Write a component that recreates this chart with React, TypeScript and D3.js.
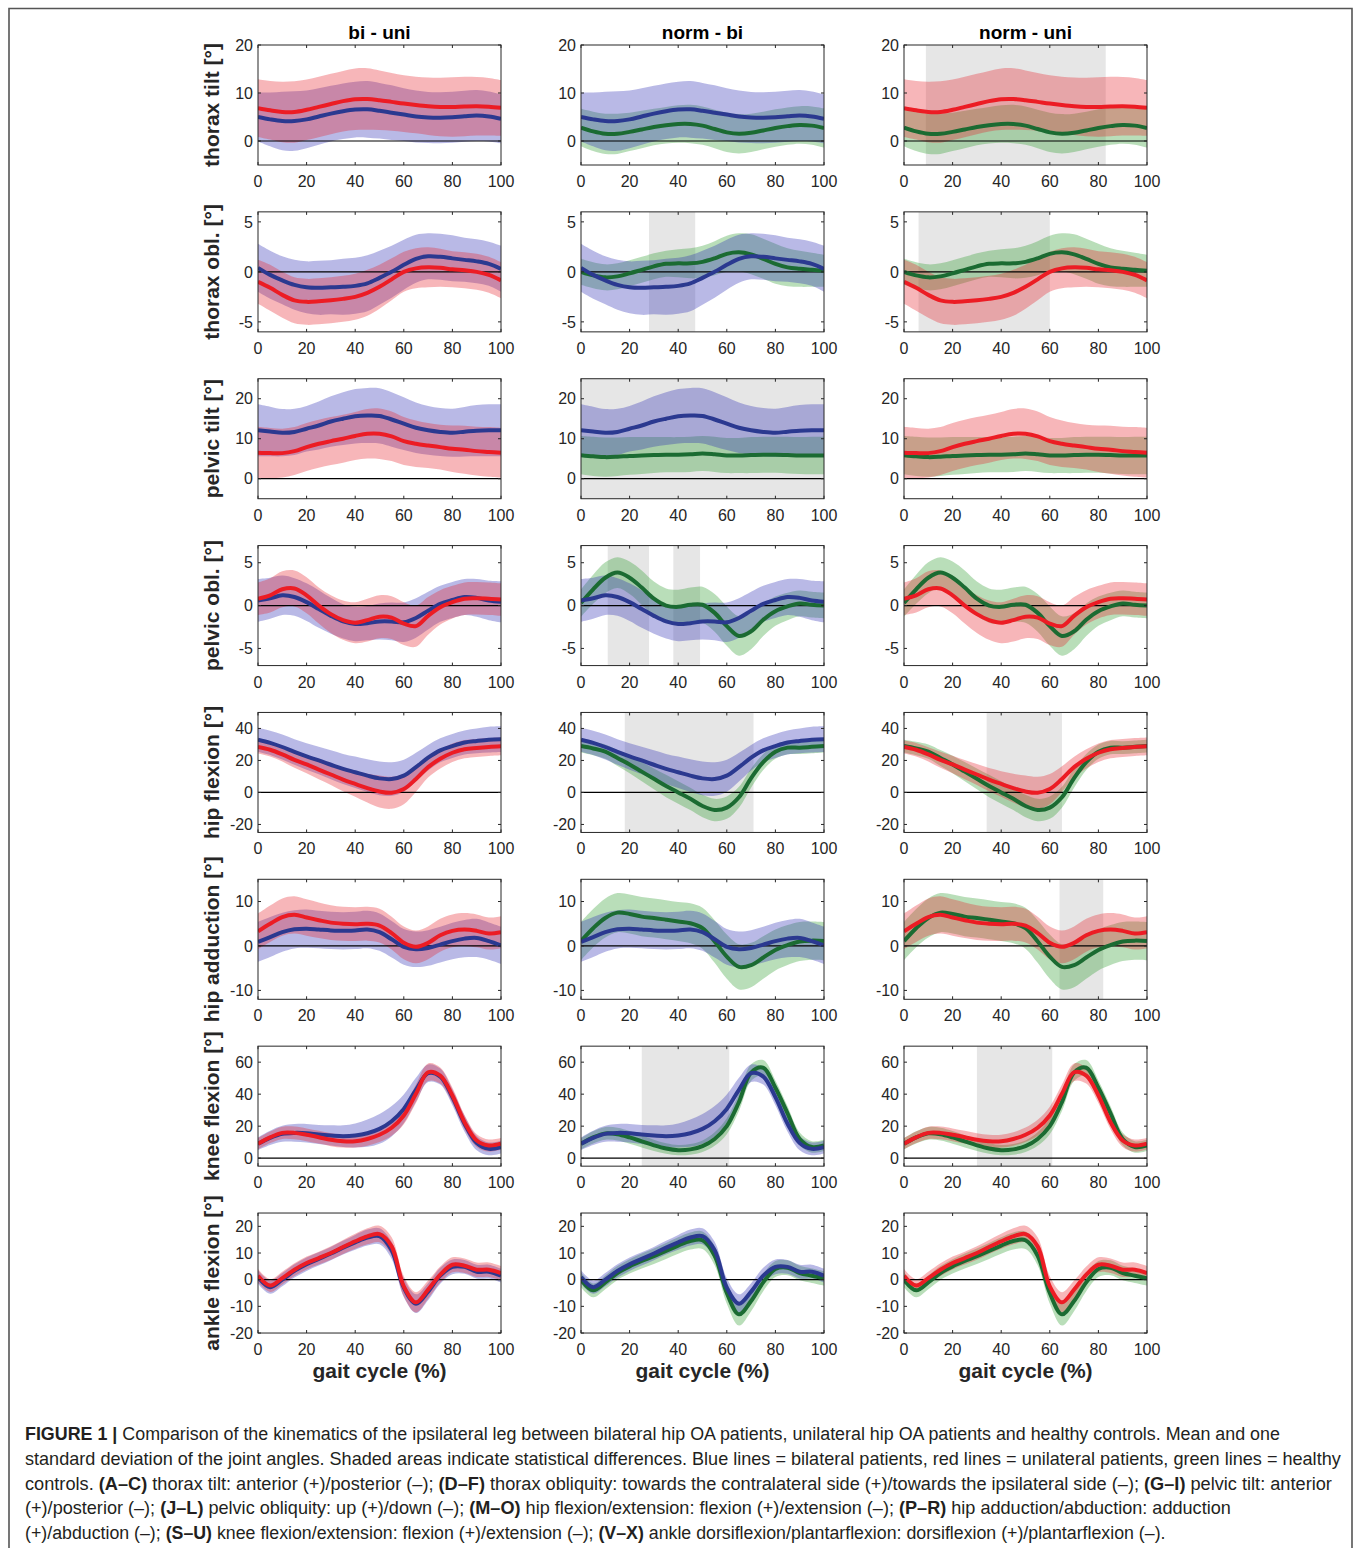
import React, { useLayoutEffect, useRef, useState } from "react";
import * as d3 from "d3";

// gait cycle samples (%)
const GAIT = [0, 5, 10, 15, 20, 25, 30, 35, 40, 45, 50, 55, 60, 65, 70, 75, 80, 85, 90, 95, 100];

// thorax tilt
const ttBi = [5.0, 4.5, 4.15, 4.15, 4.5, 5.1, 5.7, 6.2, 6.55, 6.6, 6.3, 5.9, 5.5, 5.1, 4.9, 4.85, 4.95, 5.15, 5.3, 5.1, 4.6];
const ttBiSd = [5.1, 5.6, 6.1, 6.2, 6.0, 5.9, 5.8, 5.8, 5.8, 5.9, 5.8, 5.7, 5.5, 5.4, 5.3, 5.3, 5.3, 5.3, 5.3, 5.2, 5.1];
const ttUni = [6.85, 6.4, 6.05, 6.05, 6.5, 7.1, 7.7, 8.3, 8.7, 8.75, 8.5, 8.15, 7.8, 7.5, 7.25, 7.1, 7.1, 7.2, 7.25, 7.15, 6.9];
const ttUniSd = [6.0, 6.1, 6.3, 6.4, 6.3, 6.3, 6.3, 6.3, 6.4, 6.4, 6.2, 6.0, 5.9, 5.9, 6.0, 6.1, 6.2, 6.2, 6.1, 6.0, 5.8];
const ttNorm = [2.8, 2.0, 1.5, 1.5, 1.9, 2.4, 2.9, 3.3, 3.55, 3.55, 3.2, 2.5, 1.8, 1.5, 1.7, 2.2, 2.7, 3.1, 3.35, 3.2, 2.7];
const ttNormSd = [3.9, 4.1, 4.2, 4.2, 4.0, 3.9, 3.8, 3.8, 3.9, 4.0, 4.0, 4.0, 4.1, 4.1, 4.0, 3.9, 3.9, 3.9, 3.9, 4.0, 4.1];

// thorax obliquity
const toBi = [0.4, -0.3, -0.85, -1.3, -1.55, -1.6, -1.55, -1.5, -1.4, -1.15, -0.6, 0, 0.7, 1.3, 1.55, 1.5, 1.35, 1.2, 1.05, 0.8, 0.3];
const toBiSd = [2.4, 2.4, 2.4, 2.5, 2.6, 2.7, 2.7, 2.8, 2.8, 2.8, 2.7, 2.6, 2.5, 2.4, 2.3, 2.3, 2.3, 2.2, 2.2, 2.2, 2.3];
const toUni = [-1.0, -1.6, -2.3, -2.85, -3.0, -2.95, -2.85, -2.7, -2.5, -2.1, -1.5, -0.75, 0, 0.35, 0.45, 0.4, 0.25, 0.15, 0, -0.3, -0.85];
const toUniSd = [2.2, 2.3, 2.3, 2.3, 2.3, 2.3, 2.3, 2.3, 2.3, 2.3, 2.2, 2.1, 2.0, 2.0, 2.0, 1.9, 1.8, 1.8, 1.8, 1.8, 1.8];
const toNorm = [0, -0.35, -0.55, -0.45, -0.15, 0.2, 0.55, 0.8, 0.85, 0.85, 1.0, 1.35, 1.8, 1.95, 1.75, 1.3, 0.8, 0.45, 0.3, 0.2, 0.1];
const toNormSd = [1.3, 1.3, 1.3, 1.3, 1.3, 1.3, 1.3, 1.3, 1.4, 1.5, 1.6, 1.7, 1.8, 1.9, 2.0, 2.0, 2.0, 1.9, 1.8, 1.7, 1.6];

// pelvic tilt
const ptBi = [12.1, 11.8, 11.5, 11.7, 12.5, 13.3, 14.3, 15.0, 15.6, 15.8, 15.7, 14.8, 13.75, 12.75, 12.1, 11.7, 11.5, 11.75, 12.0, 12.1, 12.1];
const ptBiSd = [6.5, 6.2, 5.9, 5.8, 5.7, 6.0, 6.3, 6.6, 6.8, 6.9, 6.9, 6.8, 6.6, 6.3, 6.1, 6.0, 6.0, 6.2, 6.4, 6.5, 6.5];
const ptUni = [6.5, 6.4, 6.4, 6.9, 7.9, 8.75, 9.4, 10.0, 10.7, 11.25, 11.25, 10.6, 9.4, 8.75, 8.3, 7.9, 7.5, 7.25, 6.9, 6.7, 6.5];
const ptUniSd = [6.5, 6.3, 6.1, 6.0, 6.0, 6.0, 6.0, 6.0, 6.0, 6.2, 6.3, 6.2, 6.0, 5.8, 5.6, 5.6, 5.8, 6.0, 6.1, 6.2, 6.2];
const ptNorm = [5.9, 5.6, 5.4, 5.5, 5.7, 5.8, 5.9, 6.0, 6.0, 6.1, 6.3, 6.1, 5.8, 5.8, 5.9, 6.0, 6.0, 5.9, 5.8, 5.8, 5.8];
const ptNormSd = [4.8, 4.9, 4.9, 4.8, 4.7, 4.6, 4.5, 4.4, 4.4, 4.4, 4.4, 4.4, 4.4, 4.4, 4.5, 4.5, 4.5, 4.6, 4.6, 4.7, 4.7];

// pelvic obliquity
const poBi = [0.6, 0.85, 1.2, 1.0, 0.4, -0.4, -1.2, -1.85, -2.15, -2.05, -1.85, -1.85, -1.95, -1.45, -0.6, 0.2, 0.65, 1.0, 0.9, 0.6, 0.45];
const poBiSd = [2.5, 2.4, 2.3, 2.2, 2.2, 2.2, 2.1, 2.0, 2.0, 2.0, 2.1, 2.2, 2.3, 2.3, 2.2, 2.1, 2.1, 2.1, 2.2, 2.3, 2.4];
const poUni = [0.8, 1.2, 1.9, 2.0, 1.2, 0, -1.0, -1.7, -2.0, -1.7, -1.3, -1.4, -2.1, -2.4, -1.2, -0.2, 0.4, 0.8, 0.85, 0.8, 0.7];
const poUniSd = [1.9, 2.0, 2.1, 2.1, 2.1, 2.1, 2.2, 2.3, 2.4, 2.5, 2.5, 2.5, 2.5, 2.4, 2.2, 2.0, 1.9, 1.9, 1.9, 1.9, 1.9];
const poNorm = [0.3, 1.9, 3.25, 3.85, 3.25, 2.1, 0.8, 0, -0.15, 0.1, 0.1, -0.85, -2.4, -3.55, -3.0, -1.65, -0.65, -0.1, 0.25, 0.1, 0];
const poNormSd = [1.6, 1.7, 1.8, 1.8, 1.9, 2.0, 2.0, 2.0, 2.0, 2.0, 2.1, 2.2, 2.3, 2.3, 2.1, 1.9, 1.7, 1.6, 1.5, 1.5, 1.5];

// hip flexion
const hfBi = [33, 31, 28.4, 25.3, 22.5, 20, 17.3, 14.7, 12.6, 10.5, 8.8, 8.4, 10.5, 15.8, 21.7, 26.3, 29, 31.2, 32.2, 33, 33.3];
const hfBiSd = [7.5, 7.6, 7.8, 8, 8.3, 8.6, 9, 9.4, 9.8, 10.2, 10.5, 10.5, 10, 9, 8, 7.5, 7.5, 7.5, 7.7, 8, 8];
const hfUni = [28.4, 26.7, 23.8, 20.4, 17.5, 14.3, 11.2, 8, 5.3, 2.7, 0.6, -0.2, 2.1, 8.4, 15.8, 21, 24.8, 27, 27.8, 28.4, 28.8];
const hfUniSd = [4, 4.2, 4.5, 5, 5.5, 6, 6.5, 7.2, 8, 9, 10, 10, 9.5, 8, 6.5, 6, 5.8, 5.7, 5.6, 5.6, 5.6];
const hfNorm = [29, 27.5, 25.5, 21.5, 17.5, 13, 8.5, 4, 0, -4, -8.5, -11, -9.5, -3, 9, 19, 25.5, 28, 28, 28.5, 29];
const hfNormSd = [4, 4.2, 4.5, 5, 5.5, 6, 6.5, 7, 7, 7, 7, 7, 7, 6.5, 6, 5, 4.5, 4.2, 4, 4, 4];

// hip adduction
const haBi = [0.9, 2, 3.1, 3.75, 3.9, 3.7, 3.5, 3.4, 3.5, 3.7, 3.1, 1.5, -0.2, -0.75, -0.45, 0.3, 1.1, 1.65, 1.8, 1.1, 0.15];
const haBiSd = [4.5, 4.5, 4.4, 4.3, 4.3, 4.2, 4.2, 4.2, 4.2, 4.2, 4.2, 4.1, 4.0, 4.0, 4.0, 4.0, 4.1, 4.2, 4.3, 4.2, 4.2];
const haUni = [3.3, 5, 6.5, 7, 6.4, 5.8, 5.25, 5, 4.9, 5, 4.6, 2.9, 0.7, -0.2, 0.7, 2.4, 3.4, 3.7, 3.4, 2.8, 3.1];
const haUniSd = [4.0, 4.1, 4.2, 4.2, 4.1, 4.0, 3.9, 3.8, 3.8, 3.8, 3.8, 3.7, 3.7, 3.7, 3.7, 3.7, 3.7, 3.7, 3.7, 3.6, 3.6];
const haNorm = [1.1, 4, 6.3, 7.5, 7.2, 6.6, 6.3, 5.9, 5.5, 5.1, 4, 1, -2.4, -4.7, -4.3, -2.6, -0.9, 0.2, 1, 1.2, 1.1];
const haNormSd = [4.3, 4.3, 4.4, 4.4, 4.4, 4.4, 4.4, 4.4, 4.4, 4.5, 4.6, 4.8, 5.0, 5.1, 5.0, 4.8, 4.6, 4.5, 4.4, 4.3, 4.3];

// knee flexion
const kfBi = [9, 12.7, 15.2, 15.8, 15.6, 14.8, 14.2, 13.75, 14.2, 15.6, 18.3, 23.1, 30.8, 42.7, 53.1, 51, 38.1, 21.5, 9.4, 5.8, 6.9];
const kfBiSd = [4, 4.5, 5, 5.5, 5.8, 6, 6.3, 6.8, 7.5, 8.5, 9.3, 9.5, 9, 7.5, 5.5, 5, 5, 5, 4.5, 4, 4];
const kfUni = [9, 13, 15.8, 15.8, 14.6, 13.1, 11.5, 10.6, 10.6, 12, 14.6, 19, 26.7, 40.2, 53.7, 51.6, 39.2, 22.5, 11, 7.9, 9];
const kfUniSd = [3.5, 3.6, 3.8, 4, 4, 4, 4, 4, 4, 4.2, 4.5, 5, 5.5, 5.8, 5.5, 5, 4.8, 4.5, 4, 3.8, 3.6];
const kfNorm = [9, 13, 15.5, 15, 13, 10.5, 8, 6, 5, 5.5, 7.5, 12, 20, 35, 53.5, 56.5, 44, 28, 12, 7, 8];
const kfNormSd = [3.5, 3.8, 4, 4, 4, 3.8, 3.5, 3.3, 3.2, 3.3, 3.6, 4.2, 5, 5.5, 5.2, 4.8, 4.6, 4.4, 4, 3.6, 3.5];

// ankle flexion
const afBi = [1, -2.8, 0, 3.3, 5.8, 7.8, 9.8, 12, 14, 15.8, 16.3, 11, -3, -9, -4.5, 1.5, 4.8, 4.8, 3, 3, 1.5];
const afBiSd = [2.5, 2.5, 2.5, 2.5, 2.5, 2.5, 2.5, 2.6, 2.8, 3, 3, 3.2, 3.5, 3.5, 3.2, 3, 2.8, 2.6, 2.6, 2.6, 2.6];
const afUni = [1.5, -2.2, 0.6, 3.75, 6.25, 8.1, 10, 12.25, 14.4, 16.25, 17.1, 12.5, -2.5, -8.5, -3.75, 1.9, 5.6, 5.25, 3.75, 3.75, 2.5];
const afUniSd = [2.5, 2.4, 2.4, 2.4, 2.4, 2.4, 2.5, 2.6, 2.8, 3, 3.1, 3.4, 3.8, 3.8, 3.4, 3, 2.8, 2.7, 2.7, 2.7, 2.6];
const afNorm = [0, -4, -1, 2.5, 5, 7, 8.8, 10.8, 12.8, 14.5, 14.8, 9, -5, -13, -8, -1, 4, 4.5, 2.5, 1.5, 0.5];
const afNormSd = [2.8, 2.6, 2.6, 2.6, 2.7, 2.8, 2.9, 3, 3.1, 3.2, 3.3, 3.6, 4, 4.2, 3.8, 3.3, 3, 2.8, 2.7, 2.7, 2.7];

const X_TICKS = [0, 20, 40, 60, 80, 100];
const COL_TITLES = ["bi - uni", "norm - bi", "norm - uni"];

type Group = "bi" | "uni" | "norm";
const COL_GROUPS: Group[][] = [["bi", "uni"], ["norm", "bi"], ["norm", "uni"]];

const LINE_COLOR: Record<Group, string> = { bi: "#2b3990", uni: "#ec1c24", norm: "#1b6b32" };
const BAND_COLOR: Record<Group, string> = { bi: "#2a2ab4", uni: "#e8202a", norm: "#2a9a2a" };

type Row = {
  label: string;
  domain: [number, number];
  ticks: number[];
  data: Record<Group, [number[], number[]]>;
  sig: [number, number][][];
};

const ROWS: Row[] = [
  {
    label: "thorax tilt [°]", domain: [-5, 20], ticks: [0, 10, 20],
    data: { bi: [ttBi, ttBiSd], uni: [ttUni, ttUniSd], norm: [ttNorm, ttNormSd] },
    sig: [[], [], [[9, 83]]],
  },
  {
    label: "thorax obl. [°]", domain: [-6, 6], ticks: [-5, 0, 5],
    data: { bi: [toBi, toBiSd], uni: [toUni, toUniSd], norm: [toNorm, toNormSd] },
    sig: [[], [[28, 47]], [[6, 60]]],
  },
  {
    label: "pelvic tilt [°]", domain: [-5, 25], ticks: [0, 10, 20],
    data: { bi: [ptBi, ptBiSd], uni: [ptUni, ptUniSd], norm: [ptNorm, ptNormSd] },
    sig: [[], [[0, 100]], []],
  },
  {
    label: "pelvic obl. [°]", domain: [-7, 7], ticks: [-5, 0, 5],
    data: { bi: [poBi, poBiSd], uni: [poUni, poUniSd], norm: [poNorm, poNormSd] },
    sig: [[], [[11, 28], [38, 49]], []],
  },
  {
    label: "hip flexion [°]", domain: [-25, 50], ticks: [-20, 0, 20, 40],
    data: { bi: [hfBi, hfBiSd], uni: [hfUni, hfUniSd], norm: [hfNorm, hfNormSd] },
    sig: [[], [[18, 71]], [[34, 65]]],
  },
  {
    label: "hip adduction [°]", domain: [-12, 15], ticks: [-10, 0, 10],
    data: { bi: [haBi, haBiSd], uni: [haUni, haUniSd], norm: [haNorm, haNormSd] },
    sig: [[], [], [[64, 82]]],
  },
  {
    label: "knee flexion [°]", domain: [-5, 70], ticks: [0, 20, 40, 60],
    data: { bi: [kfBi, kfBiSd], uni: [kfUni, kfUniSd], norm: [kfNorm, kfNormSd] },
    sig: [[], [[25, 61]], [[30, 61]]],
  },
  {
    label: "ankle flexion [°]", domain: [-20, 25], ticks: [-20, -10, 0, 10, 20],
    data: { bi: [afBi, afBiSd], uni: [afUni, afUniSd], norm: [afNorm, afNormSd] },
    sig: [[], [], []],
  },
];

// caption lines: [text, bold] segments
const CAPTION: [string, boolean][][] = [
  [["FIGURE 1 | ", true], ["Comparison of the kinematics of the ipsilateral leg between bilateral hip OA patients, unilateral hip OA patients and healthy controls. Mean and one", false]],
  [["standard deviation of the joint angles. Shaded areas indicate statistical differences. Blue lines = bilateral patients, red lines = unilateral patients, green lines = healthy", false]],
  [["controls. ", false], ["(A–C)", true], [" thorax tilt: anterior (+)/posterior (–); ", false], ["(D–F)", true], [" thorax obliquity: towards the contralateral side (+)/towards the ipsilateral side (–); ", false], ["(G–I)", true], [" pelvic tilt: anterior", false]],
  [["(+)/posterior (–); ", false], ["(J–L)", true], [" pelvic obliquity: up (+)/down (–); ", false], ["(M–O)", true], [" hip flexion/extension: flexion (+)/extension (–); ", false], ["(P–R)", true], [" hip adduction/abduction: adduction", false]],
  [["(+)/abduction (–); ", false], ["(S–U)", true], [" knee flexion/extension: flexion (+)/extension (–); ", false], ["(V–X)", true], [" ankle dorsiflexion/plantarflexion: dorsiflexion (+)/plantarflexion (–).", false]],
];
const CAPTION_WIDTHS = [1256, 1317, 1308, 1207, 1141];

const FONT = "'Liberation Sans', Arial, Helvetica, sans-serif";
const INK = "#262626";
const PW = 243;
const PH = 120;
const COL_X = [258, 581, 904];
const ROW_Y0 = 45;
const ROW_STEP = 166.86;

const Panel: React.FC<{ row: Row; rowIdx: number; col: number }> = ({ row, rowIdx, col }) => {
  const x = d3.scaleLinear().domain([0, 100]).range([0, PW]);
  const y = d3.scaleLinear().domain(row.domain).range([PH, 0]);
  const idx = GAIT.map((_, i) => i);
  const groups = COL_GROUPS[col];
  const clipId = `clip-${rowIdx}-${col}`;
  const tx = COL_X[col];
  const ty = ROW_Y0 + rowIdx * ROW_STEP;

  const band = (g: Group) => {
    const [m, s] = row.data[g];
    return d3
      .area<number>()
      .x((i) => x(GAIT[i]))
      .y0((i) => y(m[i] - s[i]))
      .y1((i) => y(m[i] + s[i]))
      .curve(d3.curveCatmullRom)(idx) || "";
  };
  const line = (g: Group) => {
    const [m] = row.data[g];
    return d3
      .line<number>()
      .x((i) => x(GAIT[i]))
      .y((i) => y(m[i]))
      .curve(d3.curveCatmullRom)(idx) || "";
  };

  return (
    <g transform={`translate(${tx},${ty})`}>
      <defs>
        <clipPath id={clipId}>
          <rect x={0} y={0} width={PW} height={PH} />
        </clipPath>
      </defs>
      <g clipPath={`url(#${clipId})`}>
        {row.sig[col].map(([a, b], k) => (
          <rect key={k} x={x(a)} y={0} width={x(b) - x(a)} height={PH} fill="#e6e6e6" />
        ))}
        {groups.map((g) => (
          <path key={`b${g}`} d={band(g)} fill={BAND_COLOR[g]} fillOpacity={0.33} stroke="none" />
        ))}
        <line x1={0} x2={PW} y1={y(0)} y2={y(0)} stroke="#000" strokeWidth={1.2} />
        {groups.map((g) => (
          <path key={`l${g}`} d={line(g)} fill="none" stroke={LINE_COLOR[g]} strokeWidth={4} strokeLinejoin="round" />
        ))}
      </g>
      <rect x={0} y={0} width={PW} height={PH} fill="none" stroke={INK} strokeWidth={1} />
      {X_TICKS.map((t) => (
        <g key={`x${t}`}>
          <line x1={x(t)} x2={x(t)} y1={PH} y2={PH - 3} stroke={INK} />
          <line x1={x(t)} x2={x(t)} y1={0} y2={3} stroke={INK} />
          <text x={x(t)} y={PH + 22} textAnchor="middle" fontSize={16} fontFamily={FONT} fill={INK}>
            {t}
          </text>
        </g>
      ))}
      {row.ticks.map((t) => (
        <g key={`y${t}`}>
          <line x1={0} x2={3} y1={y(t)} y2={y(t)} stroke={INK} />
          <line x1={PW} x2={PW - 3} y1={y(t)} y2={y(t)} stroke={INK} />
          <text x={-5} y={y(t)} dy="0.36em" textAnchor="end" fontSize={16} fontFamily={FONT} fill={INK}>
            {t}
          </text>
        </g>
      ))}
      {col === 0 && (
        <text
          transform={`translate(-46,${PH / 2}) rotate(-90)`}
          dy="0.35em"
          textAnchor="middle"
          fontSize={21}
          fontWeight="bold"
          fontFamily={FONT}
          fill={INK}
        >
          {row.label}
        </text>
      )}
      {rowIdx === 0 && (
        <text x={PW / 2} y={-6} textAnchor="middle" fontSize={19} fontWeight="bold" fontFamily={FONT} fill="#000">
          {COL_TITLES[col]}
        </text>
      )}
      {rowIdx === ROWS.length - 1 && (
        <text x={PW / 2} y={PH + 45} textAnchor="middle" fontSize={21} fontWeight="bold" fontFamily={FONT} fill={INK}>
          gait cycle (%)
        </text>
      )}
    </g>
  );
};

// one caption line, squeezed horizontally to the width it has in the figure
const CaptionLine: React.FC<{ segs: [string, boolean][]; y: number; width: number }> = ({ segs, y, width }) => {
  const ref = useRef<SVGTextElement>(null);
  const [sx, setSx] = useState(1);
  useLayoutEffect(() => {
    if (!ref.current) return;
    const w = ref.current.getBBox().width;
    if (w > 0) setSx(width / w);
  }, [width]);
  return (
    <text
      ref={ref}
      transform={`translate(25,${y}) scale(${sx},1)`}
      fontSize={18}
      fontFamily={FONT}
      fill="#231f20"
    >
      {segs.map(([t, b], k) => (
        <tspan key={k} fontWeight={b ? "bold" : "normal"}>
          {t}
        </tspan>
      ))}
    </text>
  );
};

export default function App() {
  return (
    <div style={{ position: "absolute", left: 0, top: 0 }}>
      <svg width={1357} height={1548} style={{ display: "block", background: "#fff" }}>
        <path d="M9,1548 V8.5 H1352 V1548" fill="none" stroke="#555" strokeWidth={1.6} />
        {ROWS.map((row, r) =>
          [0, 1, 2].map((c) => <Panel key={`${r}-${c}`} row={row} rowIdx={r} col={c} />)
        )}
        {CAPTION.map((segs, i) => (
          <CaptionLine key={i} segs={segs} y={1440 + i * 24.8} width={CAPTION_WIDTHS[i]} />
        ))}
      </svg>
    </div>
  );
}
